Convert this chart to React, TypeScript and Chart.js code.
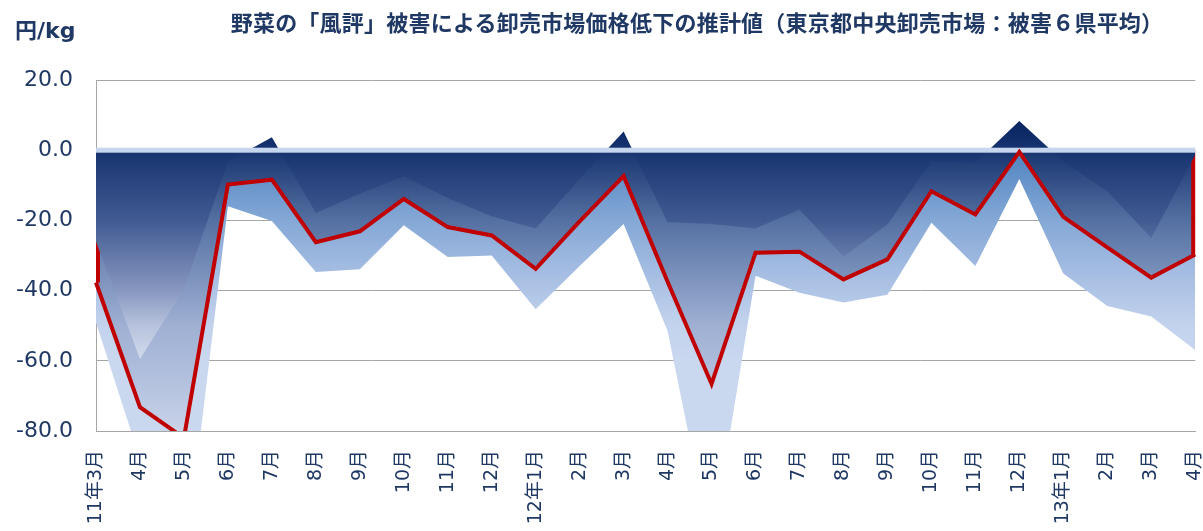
import React, { useEffect, useRef } from 'react';
import { Chart, registerables } from 'chart.js';

Chart.register(...registerables);

// ---- data ----
const categories = [
  '11年3月', '4月', '5月', '6月', '7月', '8月', '9月', '10月', '11月', '12月',
  '12年1月', '2月', '3月', '4月', '5月', '6月', '7月', '8月', '9月', '10月', '11月', '12月',
  '13年1月', '2月', '3月', '4月',
];
const averageValues = [
  -37.7, -73.2, -82.0, -9.8, -8.4, -26.2, -23.1, -13.9, -21.9, -24.3,
  -33.8, -20.3, -7.4, -37.5, -66.6, -29.2, -28.9, -36.8, -31.1, -11.7, -18.3, -0.5,
  -19.0, -27.7, -36.3, -29.7,
];
const upperValues = [
  -26.0, -59.5, -39.6, -3.2, 3.7, -17.9, -12.4, -7.4, -13.6, -18.8,
  -22.3, -8.2, 5.3, -20.5, -21.0, -22.3, -16.9, -30.3, -21.2, -3.2, -3.6, 8.3,
  -3.2, -11.7, -25.0, -1.3,
];
const lowerValues = [
  -49.1, -88.0, -120.0, -16.0, -20.2, -34.7, -33.9, -21.4, -30.4, -30.0,
  -45.3, -33.0, -21.0, -51.5, -113.0, -35.8, -40.6, -43.4, -41.2, -20.7, -33.0, -8.2,
  -35.1, -44.4, -47.4, -56.9,
];
const yMin = -80;
const yMax = 20;
const yStep = 20;

const titleText = '野菜の「風評」被害による卸売市場価格低下の推計値（東京都中央卸売市場：被害６県平均）';
const unitText = '円/kg';

// ---- styles ----
const NAVY = '#1f3864';
const RED = '#c00000';
const GRID = '#a6a6a6';
const BAND = '#c6d6ef';
const FONT = '"DejaVu Sans", "Noto Sans CJK JP", sans-serif';

type Stop = [number, string];
const upperStops: Stop[] = [
  [8, '#0a2662'], [0, '#17336f'], [-20, '#415b92'], [-40, '#8797c0'], [-50, '#b7c3dd'], [-60, '#d3dbec'],
];
const averageStops: Stop[] = [
  [0, '#18346f'], [-20, '#5470a2'], [-50, '#9fb0d3'], [-66, '#b3c1de'], [-82, '#ccd6eb'],
];
const lowerStops: Stop[] = [
  [0, '#4f82c0'], [-10, '#6a96cb'], [-20, '#84a8d6'], [-35, '#a5bde2'], [-50, '#c3d3ed'], [-60, '#c9d7ef'],
];

function makeGradient(chart: any, stops: Stop[]) {
  const { ctx, chartArea, scales } = chart;
  if (!chartArea || !scales.y) return stops[0][1];
  const y = scales.y;
  const top = y.getPixelForValue(stops[0][0]);
  const bottom = y.getPixelForValue(stops[stops.length - 1][0]);
  const g = ctx.createLinearGradient(0, top, 0, bottom);
  stops.forEach(([v, c]) => {
    const t = (y.getPixelForValue(v) - top) / (bottom - top);
    g.addColorStop(Math.min(1, Math.max(0, t)), c);
  });
  return g;
}

const overlayPlugin = {
  id: 'overlay',
  afterDatasetDraw(chart: any, args: any) {
    const ds = chart.data.datasets[args.index];
    const { ctx, chartArea, scales } = chart;
    const y0 = scales.y.getPixelForValue(0);
    if (ds.label === '平均面') {
      const pts = args.meta.data;
      ctx.save();
      ctx.beginPath();
      ctx.rect(chartArea.left, chartArea.top, chartArea.right - chartArea.left, chartArea.bottom - chartArea.top);
      ctx.clip();
      ctx.strokeStyle = RED;
      ctx.lineWidth = 8;
      [pts[0], pts[pts.length - 1]].forEach((p: any) => {
        ctx.beginPath();
        ctx.moveTo(p.x, y0);
        ctx.lineTo(p.x, p.y);
        ctx.stroke();
      });
      ctx.restore();
    }
    if (ds.label === '上限') {
      ctx.save();
      ctx.fillStyle = BAND;
      ctx.fillRect(chartArea.left, y0 - 2.5, chartArea.right - chartArea.left, 5);
      ctx.restore();
    }
  },
};

export default function App() {
  const canvasRef = useRef<HTMLCanvasElement | null>(null);

  useEffect(() => {
    if (!canvasRef.current) return;
    const chart = new Chart(canvasRef.current, {
      type: 'line',
      data: {
        labels: categories,
        datasets: [
          {
            label: '平均',
            data: averageValues,
            borderColor: RED,
            borderWidth: 4,
            pointRadius: 0,
            tension: 0,
            fill: false,
          },
          {
            label: '上限',
            data: upperValues,
            borderWidth: 0,
            pointRadius: 0,
            tension: 0,
            fill: 'origin',
            backgroundColor: (c: any) => makeGradient(c.chart, upperStops),
          },
          {
            label: '平均面',
            data: averageValues,
            borderWidth: 0,
            pointRadius: 0,
            tension: 0,
            fill: 'origin',
            backgroundColor: (c: any) => makeGradient(c.chart, averageStops),
          },
          {
            label: '下限',
            data: lowerValues,
            borderWidth: 0,
            pointRadius: 0,
            tension: 0,
            fill: 'origin',
            backgroundColor: (c: any) => makeGradient(c.chart, lowerStops),
          },
        ],
      },
      options: {
        animation: false,
        responsive: false,
        devicePixelRatio: 1,
        layout: { padding: { left: 0, right: 0, top: 80, bottom: 0 } },
        plugins: {
          legend: { display: false },
          tooltip: { enabled: false },
          title: { display: false },
        },
        scales: {
          x: {
            type: 'category',
            offset: false,
            grid: { display: false, drawTicks: false },
            border: { display: true, color: GRID, width: 1 },
            ticks: {
              autoSkip: false,
              maxRotation: 90,
              minRotation: 90,
              padding: 19,
              color: NAVY,
              font: { family: FONT, size: 19 },
            },
            afterFit: (s: any) => { s.height = 129; },
          },
          y: {
            min: yMin,
            max: yMax,
            ticks: {
              stepSize: yStep,
              padding: 23,
              color: NAVY,
              font: { family: FONT, size: 22 },
              callback: (v: any) => Number(v).toFixed(1),
            },
            grid: { color: GRID, lineWidth: 1, drawTicks: false },
            border: { display: true, color: GRID, width: 1 },
            afterFit: (s: any) => { s.width = 96; },
          },
        },
      },
      plugins: [overlayPlugin],
    } as any);
    return () => chart.destroy();
  }, []);

  return (
    <div style={{ position: 'absolute', left: 0, top: 0, width: 1203, height: 531, overflow: 'hidden', background: '#fff' }}>
      <canvas ref={canvasRef} width={1237} height={560} style={{ position: 'absolute', left: 0, top: 0, width: 1237, height: 560 }} />
      <div style={{
        position: 'absolute', left: 197, top: 10, width: 1000, textAlign: 'center', whiteSpace: 'nowrap',
        fontFamily: '"Noto Sans CJK JP", sans-serif', fontWeight: 'bold', fontSize: 22, lineHeight: '22px',
        letterSpacing: '0.22px', color: NAVY,
      }}>{titleText}</div>
      <div style={{
        position: 'absolute', left: 15, top: 20, whiteSpace: 'nowrap',
        fontFamily: FONT, fontWeight: 'bold', fontSize: 22, lineHeight: '22px', color: NAVY,
      }}>{unitText}</div>
    </div>
  );
}
